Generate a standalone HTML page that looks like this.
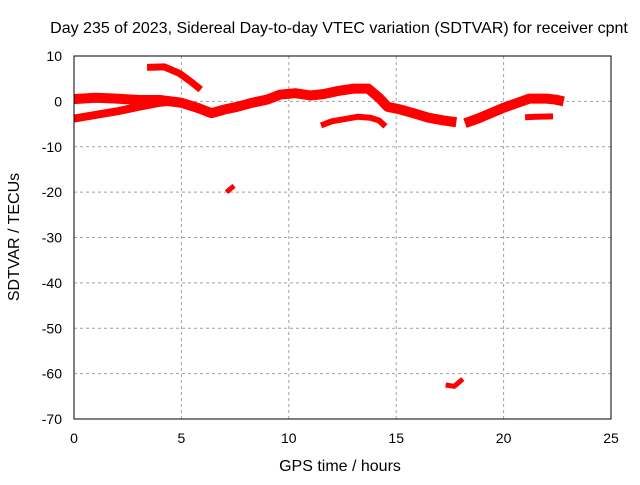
<!DOCTYPE html>
<html><head><meta charset="utf-8"><style>
body{margin:0;background:#fff}
svg text{font-family:"Liberation Sans",sans-serif;font-size:14px;fill:#000}
svg text.big{font-size:16px}
</style></head><body>
<svg id="chart" width="640" height="480" viewBox="0 0 640 480">
<rect width="640" height="480" fill="#fff"/>
<text class="big" x="339" y="33" text-anchor="middle">Day 235 of 2023, Sidereal Day-to-day VTEC variation (SDTVAR) for receiver cpnt</text>
<g id="grid"></g>
<g id="series"></g>
<rect x="74" y="56" width="537" height="363" fill="none" stroke="#000" stroke-width="1"/>
<g id="ticks"></g>
<text class="big" x="340" y="471" text-anchor="middle">GPS time / hours</text>
<text class="big" x="19" y="237" text-anchor="middle" transform="rotate(-90 19 237)">SDTVAR / TECUs</text>
</svg>
<script>
const xTicks=[0,5,10,15,20,25];
const yTicks=[10,0,-10,-20,-30,-40,-50,-60,-70];
const trackMain=[[0,0.5],[1,0.8],[2,0.6],[3,0.3],[4,0.3],[5,-0.3],[5.8,-1.5],[6.4,-2.6],[7,-1.8],[7.6,-1.2],[8.3,-0.3],[9,0.4],[9.6,1.5],[10.3,1.8],[11,1.3],[11.6,1.6],[12.3,2.3],[13,2.8],[13.7,2.8],[14.2,0.8],[14.6,-1.2],[15.2,-1.8],[15.8,-2.6],[16.5,-3.6],[17.2,-4.2],[17.8,-4.6]];
const trackLow=[[0,-3.8],[1,-3],[2,-2.2],[3,-1.2],[4,-0.3],[4.6,0]];
const trackArc=[[3.4,7.5],[4.2,7.6],[4.9,6.2],[5.4,4.5],[5.9,2.6]];
const trackRise=[[18.2,-4.8],[18.8,-3.8],[19.4,-2.6],[20,-1.4],[20.6,-0.4],[21.2,0.6],[22,0.6],[22.4,0.4],[22.8,0]];
const trackMid=[[11.5,-5.3],[12,-4.4],[12.6,-3.9],[13.2,-3.4],[13.8,-3.6],[14.2,-4.2],[14.5,-5.5]];
const trackLate=[[21,-3.5],[21.5,-3.4],[22.3,-3.3]];
const trackA=[[7.1,-20],[7.45,-18.6]];
const trackB=[[17.3,-62.5],[17.7,-62.8],[18.1,-61.2]];
const tracks=[trackMain,trackLow,trackArc,trackRise,trackMid,trackLate,trackA,trackB];
const widths=[10,8,7,10,6,6,5,5];
const names=['track-main','track-low','track-arc','track-rise','track-mid','track-late','track-outlier-a','track-outlier-b'];
const X=h=>74+h*537/25, Y=v=>56+(10-v)*363/80;
const NS='http://www.w3.org/2000/svg';
const grid=document.getElementById('grid'),ticks=document.getElementById('ticks'),ser=document.getElementById('series');
function mk(tag,attrs,parent){const e=document.createElementNS(NS,tag);for(const k in attrs)e.setAttribute(k,attrs[k]);parent.appendChild(e);return e;}
xTicks.forEach(t=>{
 if(t>0&&t<25){const g=mk('line',{x1:X(t),x2:X(t),y1:56,y2:419,stroke:'#a0a0a0','stroke-dasharray':'3,3'},grid);
 
 }
 const l=mk('text',{x:X(t),y:443,'text-anchor':'middle'},ticks);l.textContent=t;
 
 
});
yTicks.forEach(t=>{
 if(t<10&&t>-70){const g=mk('line',{x1:74,x2:611,y1:Y(t),y2:Y(t),stroke:'#a0a0a0','stroke-dasharray':'3,3'},grid);
 
 }
 const l=mk('text',{x:62,y:Y(t)+5,'text-anchor':'end'},ticks);l.textContent=t;
 
 
});
tracks.forEach((tr,i)=>{
 const p=mk('polyline',{points:tr.map(d=>X(d[0])+','+Y(d[1])).join(' '),fill:'none',stroke:'#ff0000','stroke-width':widths[i],'stroke-linejoin':'round'},ser);
 
 
});
</script>
</body></html>
